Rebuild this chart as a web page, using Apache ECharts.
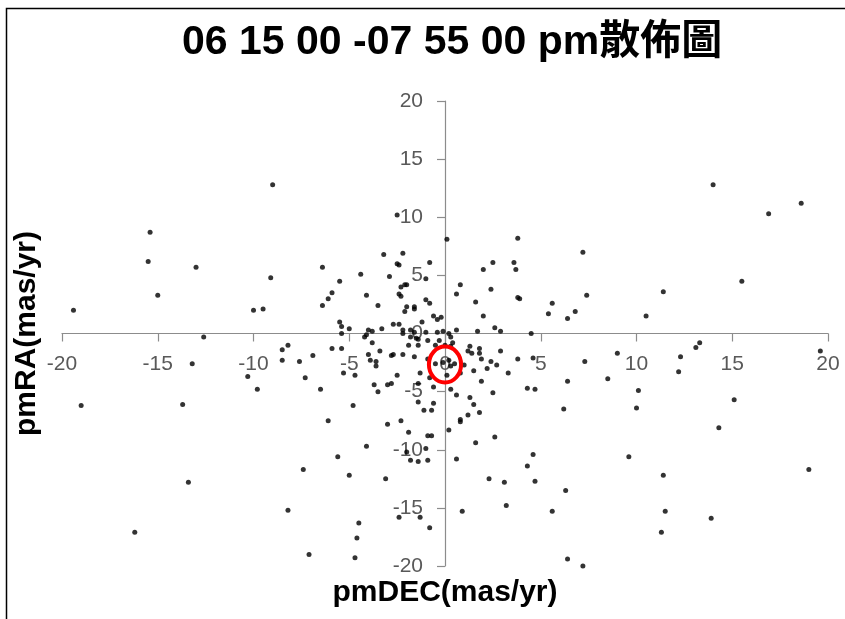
<!DOCTYPE html>
<html>
<head>
<meta charset="utf-8">
<style>
  html, body { margin: 0; padding: 0; background: #fff; }
  #chart { width: 845px; height: 619px; }
</style>
<script src="https://cdn.jsdelivr.net/npm/echarts/dist/echarts.min.js"></script>
</head>
<body>
<div id="chart"></div>
<script>
// pmDEC (x) and pmRA (y)
const pmDEC = [
  -9.0, -15.4, -15.5, -13.0, -15.0, -9.1, -19.4, -10.0, -9.5, -12.6,
  -13.2, -8.5, -8.2, -8.5, -7.6, -10.3, -7.3, -9.8, -19.0, -13.7,
  -13.4, -7.4, -8.2, -16.2, -7.1, 14.0, 16.9, 18.6, 7.2, 7.4,
  6.8, 6.4, 10.5, 11.4, 15.5, 13.3, 13.1, 12.3, 12.2, 19.6,
  9.0, 7.3, 6.4, 8.5, 10.1, 10.0, 6.2, 15.1, 14.3, 9.6,
  11.4, 19.0, 6.3, 11.5, 13.9, 11.3, 6.4, 7.2, -2.5, 0.1,
  3.8, -6.4, -5.5, -5.9, -6.1, -6.4, -4.4, -4.1, -3.2, -2.9,
  -3.5, -2.2, -2.5, -2.4, -0.8, -1.0, -2.4, -2.3, -2.3, -2.1,
  -2.0, -2.0, -2.1, -1.6, -1.6, -1.0, -0.8, -1.2, -0.6, -0.4,
  -0.2, 0.6, 0.8, 1.6, 2.0, 2.5, 2.4, 2.0, 3.6, 3.7,
  3.8, 3.9, 5.6, 5.4, -5.5, -5.4, -5.0, -5.4, -4.2, -4.1,
  -4.0, -3.8, -3.3, -3.8, -2.7, -2.4, -2.2, -2.2, -1.8, -1.6,
  -1.8, -1.5, -1.4, -1.0, -0.9, -0.4, -0.1, 0.2, 0.3, 0.4,
  -0.3, 0.6, 1.7, 2.6, 2.9, 4.5, -0.5, 0.0, 0.3, -5.9,
  -5.4, -3.4, -4.0, -3.9, -3.6, -3.6, -2.8, -2.7, -2.2, -1.9,
  -1.4, -1.6, -6.9, -6.5, -5.3, -4.7, -3.7, -3.0, -2.8, -3.5,
  -2.5, -1.3, -0.8, -1.4, -0.6, -1.4, -0.6, -1.1, -0.7, -4.8,
  -6.1, -3.0, -2.3, -1.9, -0.9, -0.7, -4.1, -5.6, -2.0, -1.0,
  -1.8, -1.4, -0.9, -5.0, -3.1, -2.4, -1.3, -0.8, -4.5, -4.6,
  -4.7, -0.9, -0.5, -0.1, 0.2, 0.3, 0.5, 1.0, 0.1, 0.8,
  1.3, 1.2, 1.4, 1.8, 1.8, 1.9, 2.4, 2.2, 2.9, 2.7,
  3.8, 4.6, 3.3, 1.5, 1.9, 0.3, 0.6, 1.3, 2.5, 1.5,
  1.8, 1.2, 0.8, 0.8, 0.2, 4.3, 4.7, 2.6, 1.6, 0.6,
  4.6, 4.3, 4.7, 2.3, 3.1, 3.2, 0.9, 5.6
];
const pmRA = [
  12.8, 8.7, 6.2, 5.7, 3.3, 4.8, 2.0, 2.0, 2.1, -0.3,
  -2.6, -1.4, -1.0, -2.3, -2.4, -3.7, -3.8, -4.8, -6.2, -6.1,
  -12.8, -11.7, -15.2, -17.1, -19.0, 12.8, 10.3, 11.2, 7.0, 3.3,
  1.9, 1.3, 1.5, 3.6, 4.5, -0.8, -1.2, -2.0, -3.3, -1.5,
  -1.7, -2.4, -4.1, -3.9, -4.9, -6.4, -6.5, -5.7, -8.1, -10.6,
  -12.2, -11.7, -13.5, -15.3, -15.9, -17.1, -19.4, -20.0, 10.2, 8.1,
  8.2, 5.7, 4.5, 3.5, 3.0, 2.4, 5.1, 3.3, 6.8, 4.9,
  2.4, 6.9, 6.0, 5.9, 6.1, 4.7, 3.4, 3.2, 4.0, 4.2,
  4.2, 2.3, 1.9, 2.3, 2.1, 2.9, 2.6, 1.0, 1.5, 1.2,
  1.4, 3.4, 4.2, 2.7, 5.5, 6.1, 3.8, 1.5, 6.1, 5.5,
  3.1, 3.0, 2.6, 1.7, 1.0, 0.6, 0.4, 0.0, -0.3, -0.1,
  0.3, 0.2, 0.4, -0.8, 0.8, 0.8, 0.3, 0.0, 0.3, 0.1,
  -0.3, -0.4, -0.5, 0.1, -0.6, 0.1, 0.2, 0.0, -0.3, -0.8,
  -0.6, 0.3, 0.2, 0.5, 0.2, 0.0, -1.0, -1.0, -1.1, -1.3,
  -1.3, -1.5, -1.8, -2.3, -2.4, -2.8, -1.9, -1.8, -1.8, -1.0,
  -1.0, -2.0, -1.9, -4.8, -3.4, -3.6, -4.4, -4.4, -4.3, -5.0,
  -3.6, -3.4, -3.8, -4.3, -4.6, -5.9, -6.0, -6.6, -6.6, -6.2,
  -7.5, -7.8, -7.5, -8.5, -8.8, -8.8, -9.7, -10.6, -10.2, -9.9,
  -10.9, -11.0, -10.9, -12.2, -12.5, -15.8, -15.8, -16.7, -16.3, -17.6,
  -19.3, -2.2, -2.6, -2.5, -2.3, -2.8, -2.6, -2.7, -3.6, -3.4,
  -1.1, -1.5, -1.7, -1.3, -1.7, -2.2, -2.4, -3.0, -1.5, -2.7,
  -2.2, -2.1, -3.4, -3.2, -4.1, -4.8, -5.3, -5.5, -5.1, -6.1,
  -6.8, -7.0, -7.4, -7.6, -8.3, -4.7, -4.8, -8.9, -9.4, -10.8,
  -10.4, -11.4, -12.7, -12.5, -12.8, -14.8, -15.3, -15.3
];

// axis range and tick step (both axes)
const axisMin = -20;
const axisMax = 20;
const axisStep = 5;

// red ring drawn round the cluster: centre [pmDEC, pmRA] and half-widths in data units
const ringCenter = [0, -2.67];
const ringRadius = [0.84, 1.55];

const points = pmDEC.map((x, i) => [x, pmRA[i]]);

// grid box; the axes are moved in to cross at the centre
const gridLeft = 62, gridRight = 17, gridTop = 101, gridBottom = 53;
const gridW = 845 - gridLeft - gridRight;
const gridH = 619 - gridTop - gridBottom;

const chart = echarts.init(document.getElementById("chart"));

const tickLabel = {
  color: "#595959",
  fontFamily: "Liberation Sans, Arial, sans-serif",
  fontSize: 21
};
const axisName = {
  color: "#000000",
  fontFamily: "Liberation Sans, Arial, sans-serif",
  fontWeight: "bold",
  fontSize: 30
};
const axisGrey = { color: "#8c8c8c", width: 1.2 };

const option = {
  backgroundColor: "#ffffff",
  animation: false,
  title: {
    text: "06 15 00 -07 55 00 pm散佈圖",
    left: 177,
    top: 17,
    textStyle: {
      color: "#000000",
      fontFamily: "Liberation Sans, Noto Sans CJK TC, sans-serif",
      fontWeight: "bold",
      fontSize: 41
    }
  },
  graphic: [
    {
      type: "rect",
      left: 4,
      top: 6,
      shape: { width: 900, height: 700 },
      style: { fill: "none", stroke: "#000000", lineWidth: 1.5 },
      silent: true
    }
  ],
  grid: {
    left: gridLeft,
    right: gridRight,
    top: gridTop,
    bottom: gridBottom,
    containLabel: false,
    outerBoundsMode: "none"
  },
  xAxis: {
    type: "value",
    min: axisMin,
    max: axisMax,
    interval: axisStep,
    position: "bottom",
    offset: -gridH / 2,
    name: "pmDEC(mas/yr)",
    nameLocation: "middle",
    nameGap: 244,
    nameMoveOverlap: false,
    nameTextStyle: axisName,
    axisLine: { show: true, onZero: false, lineStyle: axisGrey },
    axisTick: { show: true, length: 8, lineStyle: axisGrey },
    axisLabel: Object.assign({ margin: 20 }, tickLabel),
    splitLine: { show: false }
  },
  yAxis: {
    type: "value",
    min: axisMin,
    max: axisMax,
    interval: axisStep,
    position: "left",
    offset: -gridW / 2,
    name: "pmRA(mas/yr)",
    nameLocation: "middle",
    nameGap: 403,
    nameMoveOverlap: false,
    nameTextStyle: axisName,
    axisLine: { show: true, onZero: false, lineStyle: axisGrey },
    axisTick: { show: true, length: 8, lineStyle: axisGrey },
    axisLabel: Object.assign({ margin: 22 }, tickLabel),
    splitLine: { show: false }
  },
  series: [
    {
      type: "scatter",
      data: points,
      symbol: "circle",
      symbolSize: 5,
      itemStyle: { color: "#000000" },
      silent: true
    },
    {
      type: "custom",
      data: [[ringCenter[0], ringCenter[1], ringRadius[0], ringRadius[1]]],
      encode: { x: 0, y: 1 },
      silent: true,
      z: 5,
      renderItem: (params, api) => {
        const c = api.coord([api.value(0), api.value(1)]);
        const s = api.size([api.value(2), api.value(3)]);
        return {
          type: "ellipse",
          shape: { cx: c[0], cy: c[1], rx: s[0], ry: s[1] },
          style: { fill: "none", stroke: "#ff0000", lineWidth: 4 }
        };
      }
    }
  ]
};

chart.setOption(option);
</script>
</body>
</html>
